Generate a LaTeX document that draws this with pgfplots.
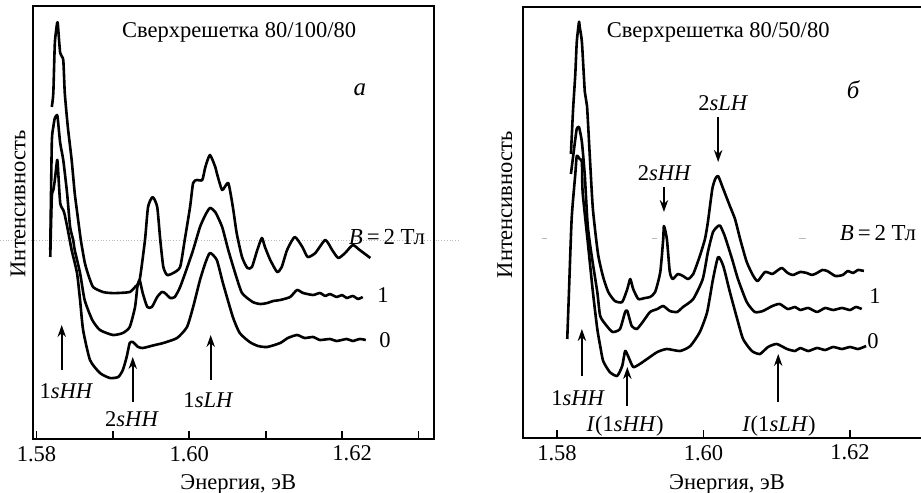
\documentclass[border=0pt]{standalone}
\usepackage{fontspec}
\setmainfont{Liberation Serif}
\usepackage{pgfplots}
\pgfplotsset{compat=1.18}
\usetikzlibrary{arrows.meta}

\newcommand{\lab}{\fontsize{11.3}{13}\selectfont}
\pgfplotsset{
  spec/.style={
    scale only axis, clip=false,
    ymin=0, ytick=\empty,
    axis line style={line width=1bp},
    every tick/.style={line width=0.9bp, black},
    major tick length=4bp,
    tick align=inside,
    xtick pos=left,
    /pgf/number format/assume math mode=true,
    ticklabel style={font=\lab},
    label style={font=\lab},
    ylabel={Интенсивность},
    xlabel={Энергия, эВ},
  },
  curve/.style={black, line width=1.3bp, line join=round, no marks, smooth, tension=0.35},
}
\tikzset{
  upar/.style={black, line width=0.85bp, -{Stealth[length=6bp,width=4.2bp]}},
}

\begin{document}
\begin{tikzpicture}
\useasboundingbox (0,0) rectangle (460.5bp,246.5bp);

% scan line across the left panel
\draw[gray!55, densely dotted, line width=0.4bp] (0,126.5bp) -- (229bp,126.5bp);

% ---------------- panel a ----------------
\begin{axis}[spec,
  at={(16.5bp,27bp)}, anchor=south west,
  width=200.5bp, height=216.5bp,
  xmin=1.57954, xmax=1.63203, ymax=433,
  xtick={1.58,1.59,1.60,1.61,1.62,1.63},
  xticklabels={1.58,,1.60,,\hspace*{10bp}1.62,},
  x label style={at={(axis description cs:0.512,-0.106)}, anchor=center},
  y label style={at={(axis description cs:-0.037,0.543)}, anchor=center, rotate=0},
]
% B = 2 T
\addplot[curve] coordinates {
(1.5820,332) (1.5822,346) (1.5824,396) (1.5827,416) (1.5828,414) (1.5831,386)
(1.5835,379) (1.5837,346) (1.5841,312) (1.5846,279) (1.5850,246) (1.5854,222)
(1.5858,199) (1.5863,177) (1.5867,166) (1.5874,152) (1.5887,147) (1.5897,146)
(1.5907,146) (1.5922,147) (1.5929,152) (1.5935,159) (1.5942,199) (1.5946,232)
(1.5952,242) (1.5958,232) (1.5962,199) (1.5966,172) (1.5971,164) (1.5979,166)
(1.5988,172) (1.5994,199) (1.6001,232) (1.6005,256) (1.6010,259) (1.6017,259)
(1.6021,272) (1.6027,284) (1.6034,272) (1.6036,266) (1.6043,249) (1.6051,256)
(1.6057,232) (1.6062,206) (1.6069,182) (1.6076,171) (1.6082,172) (1.6089,189)
(1.6095,201) (1.6099,192) (1.6106,179) (1.6115,167) (1.6121,172) (1.6128,189)
(1.6138,202) (1.6148,192) (1.6155,182) (1.6165,186) (1.6178,199) (1.6187,189)
(1.6195,181) (1.6204,186) (1.6214,194) (1.6223,189) (1.6237,181)
};
% B = 1 T
\addplot[curve] coordinates {
(1.5818,189) (1.5820,296) (1.5822,312) (1.5824,321) (1.5827,324) (1.5828,319)
(1.5831,296) (1.5835,279) (1.5840,246) (1.5844,212) (1.5848,199) (1.5850,189)
(1.5857,166) (1.5863,139) (1.5873,119) (1.5883,109) (1.5900,104) (1.5913,106)
(1.5922,112) (1.5929,132) (1.5932,152) (1.5935,159) (1.5939,146) (1.5945,132)
(1.5951,132) (1.5958,142) (1.5964,147) (1.5968,146) (1.5975,141) (1.5981,142)
(1.5988,152) (1.5997,171) (1.6005,189) (1.6014,212) (1.6021,224) (1.6027,231)
(1.6034,227) (1.6043,212) (1.6051,189) (1.6060,166) (1.6069,146) (1.6083,137)
(1.6093,135) (1.6102,136) (1.6110,138) (1.6119,139) (1.6132,142) (1.6141,149)
(1.6149,146) (1.6162,144) (1.6171,146) (1.6178,143) (1.6184,145) (1.6193,142)
(1.6200,144) (1.6206,141) (1.6214,143) (1.6221,140) (1.6227,142)
};
% B = 0
\addplot[curve] coordinates {
(1.5818,182) (1.5820,242) (1.5822,249) (1.5824,259) (1.5827,279) (1.5828,272)
(1.5831,236) (1.5835,229) (1.5837,224) (1.5841,209) (1.5846,189) (1.5853,166)
(1.5857,139) (1.5861,109) (1.5870,79) (1.5883,66) (1.5896,61) (1.5907,62)
(1.5913,69) (1.5918,82) (1.5922,96) (1.5926,97) (1.5933,92) (1.5939,91)
(1.5945,92) (1.5955,94) (1.5966,96) (1.5984,101) (1.5997,112) (1.6005,132)
(1.6014,159) (1.6021,176) (1.6027,186) (1.6036,179) (1.6044,156) (1.6057,122)
(1.6066,106) (1.6079,97) (1.6090,93) (1.6102,92) (1.6119,96) (1.6129,101)
(1.6141,104) (1.6151,101) (1.6162,102) (1.6171,99) (1.6184,100) (1.6193,98)
(1.6206,100) (1.6214,98) (1.6223,100) (1.6231,99)
};
\node[font=\fontsize{11.3}{13}\selectfont] at (rel axis cs:0.514,0.938) {Сверхрешетка 80/100/80};
\node[font=\fontsize{12.5}{14}\selectfont\itshape] at (rel axis cs:0.815,0.806) {а};
\node[font=\fontsize{11.5}{13}\selectfont] at (axis cs:1.62588,202) {\textit{B}\,=\,2 Тл};
\node[font=\lab] at (axis cs:1.62535,144) {1};
\node[font=\lab] at (axis cs:1.62562,99) {0};
\draw[upar] (axis cs:1.5833,69) -- (axis cs:1.5833,114);
\draw[upar] (axis cs:1.5926,37) -- (axis cs:1.5926,82);
\draw[upar] (axis cs:1.6028,59) -- (axis cs:1.6028,104);
\node[font=\lab] at (axis cs:1.5839,48) {1\textit{sHH}};
\node[font=\lab] at (axis cs:1.5925,20) {2\textit{sHH}};
\node[font=\lab] at (axis cs:1.6025,39) {1\textit{sLH}};
\end{axis}

% ---------------- panel b ----------------
\begin{axis}[spec,
  at={(261.5bp,27.5bp)}, anchor=south west,
  width=202bp, height=215.5bp,
  xmin=1.57536, xmax=1.63051, ymax=431,
  xtick={1.58,1.60,1.62},
  xticklabels={1.58,1.60,1.62},
  x label style={at={(axis description cs:0.505,-0.108)}, anchor=center},
  y label style={at={(axis description cs:-0.045,0.541)}, anchor=center, rotate=0},
]
% B = 2 T
\addplot[curve] coordinates {
(1.5819,284) (1.5822,329) (1.5825,364) (1.5827,396) (1.5830,416) (1.5831,411)
(1.5834,396) (1.5838,346) (1.5841,332) (1.5845,279) (1.5849,229) (1.5856,184)
(1.5863,161) (1.5870,146) (1.5879,137) (1.5889,136) (1.5896,149) (1.5900,159)
(1.5904,149) (1.5911,139) (1.5920,140) (1.5927,141) (1.5934,146) (1.5941,166)
(1.5945,199) (1.5946,212) (1.5950,199) (1.5954,166) (1.5958,159) (1.5965,164)
(1.5972,162) (1.5979,159) (1.5986,164) (1.5995,182) (1.6002,199) (1.6006,216)
(1.6012,249) (1.6016,259) (1.6020,262) (1.6027,249) (1.6036,232) (1.6043,219)
(1.6050,199) (1.6059,176) (1.6068,162) (1.6074,157) (1.6084,166) (1.6094,164)
(1.6100,167) (1.6107,170) (1.6115,165) (1.6122,163) (1.6132,166) (1.6141,165)
(1.6148,163) (1.6155,165) (1.6162,168) (1.6169,167) (1.6180,162) (1.6190,163)
(1.6197,167) (1.6204,165) (1.6211,168) (1.6219,167)
};
% B = 1 T
\addplot[curve] coordinates {
(1.5819,264) (1.5825,299) (1.5827,309) (1.5830,311) (1.5834,296) (1.5838,262)
(1.5842,212) (1.5848,179) (1.5855,146) (1.5859,122) (1.5868,112) (1.5876,106)
(1.5886,109) (1.5893,126) (1.5896,127) (1.5902,112) (1.5909,109) (1.5917,116)
(1.5927,126) (1.5937,129) (1.5945,132) (1.5954,127) (1.5964,126) (1.5972,131)
(1.5986,139) (1.5999,159) (1.6006,186) (1.6013,206) (1.6020,212) (1.6023,212)
(1.6029,202) (1.6039,179) (1.6047,159) (1.6059,136) (1.6070,126) (1.6081,127)
(1.6094,132) (1.6104,134) (1.6115,129) (1.6125,131) (1.6132,128) (1.6143,130)
(1.6155,126) (1.6166,130) (1.6177,128) (1.6189,130) (1.6200,128) (1.6208,131)
(1.6216,129)
};
% B = 0
\addplot[curve] coordinates {
(1.5814,99) (1.5816,139) (1.5820,219) (1.5825,264) (1.5827,282) (1.5831,279)
(1.5834,276) (1.5835,246) (1.5842,196) (1.5849,146) (1.5855,109) (1.5859,92)
(1.5863,77) (1.5872,66) (1.5882,62) (1.5889,72) (1.5893,87) (1.5897,82)
(1.5904,71) (1.5913,74) (1.5923,79) (1.5937,86) (1.5950,89) (1.5968,87)
(1.5982,92) (1.5995,106) (1.6005,126) (1.6013,159) (1.6020,181) (1.6027,172)
(1.6036,146) (1.6046,119) (1.6054,99) (1.6066,87) (1.6077,84) (1.6088,91)
(1.6100,94) (1.6114,89) (1.6125,87) (1.6132,90) (1.6143,87) (1.6155,90)
(1.6166,88) (1.6177,91) (1.6189,89) (1.6200,91) (1.6211,89) (1.6222,92)
};
\node[font=\fontsize{11.3}{13}\selectfont] at (rel axis cs:0.483,0.94) {Сверхрешетка 80/50/80};
\node[font=\fontsize{12.5}{14}\selectfont\itshape] at (rel axis cs:0.817,0.808) {б};
\node[font=\fontsize{11.5}{13}\selectfont] at (axis cs:1.62382,205) {\textit{B}\,=\,2 Тл};
\node[font=\lab] at (axis cs:1.62341,142) {1};
\node[font=\lab] at (axis cs:1.62314,97) {0};
\draw[upar] (axis cs:1.5834,62) -- (axis cs:1.5834,109);
\draw[upar] (axis cs:1.5896,32) -- (axis cs:1.5896,71);
\draw[upar] (axis cs:1.6102,36) -- (axis cs:1.6102,84);
\draw[upar] (axis cs:1.5946,251) -- (axis cs:1.5946,226);
\draw[upar] (axis cs:1.6020,321) -- (axis cs:1.6020,276);
\node[font=\lab] at (axis cs:1.5829,40) {1\textit{sHH}};
\node[font=\lab] at (axis cs:1.5893,12) {\textit{I}(1\textit{sHH})};
\node[font=\lab] at (axis cs:1.6103,12) {\textit{I}(1\textit{sLH})};
\node[font=\lab] at (axis cs:1.5947,265) {2\textit{sHH}};
\node[font=\lab] at (axis cs:1.6027,335) {2\textit{sLH}};
% stray marks of the scan line
\draw[gray!55, line width=0.5bp] (axis cs:1.5780,199) -- (axis cs:1.5787,199);
\draw[gray!55, line width=0.5bp] (axis cs:1.5930,199) -- (axis cs:1.5936,199);
\draw[gray!55, line width=0.5bp] (axis cs:1.6130,199) -- (axis cs:1.6140,199);
\end{axis}
\end{tikzpicture}
\end{document}
